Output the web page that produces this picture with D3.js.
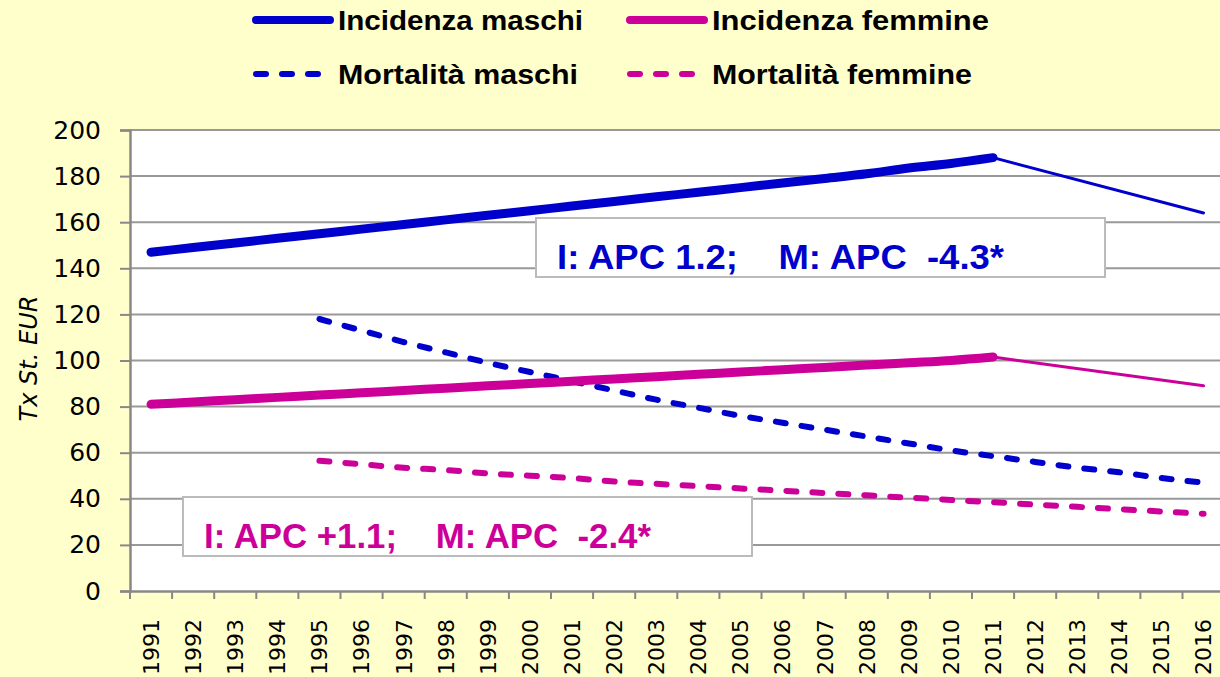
<!DOCTYPE html>
<html>
<head>
<meta charset="utf-8">
<script src="https://cdn.jsdelivr.net/npm/d3@7"></script>
<style>
  body { margin: 0; background: #ffffcc; overflow: hidden; }
  svg { display: block; }
</style>
</head>
<body>
<div id="chart"></div>
<script>
// years on the x axis
var years = d3.range(1991, 2017).map(String);
var yTicks = [0, 20, 40, 60, 80, 100, 120, 140, 160, 180, 200];

// values
var incMaschi = [147, 149, 151, 153, 155, 157, 159, 161, 163, 165, 167, 169, 171, 173, 175, 177, 179, 181, 183.5, 185.5, 188];
var incMaschiYears = d3.range(1991, 2012).map(String);
var incMaschiTail = [188, 164];
var incFemmine = [81, 82, 83, 84, 85, 86, 87, 88, 89, 90, 91, 92, 93, 94, 95, 96, 97, 98, 99, 100, 101.5];
var incFemmineTail = [101.5, 89];
var tailYears = ["2011", "2016"];
var mortYears = d3.range(1995, 2017).map(String);
var mortMaschi = [118, 113, 108, 103.5, 99, 95, 91, 87, 83, 79.5, 76, 73, 70, 67, 64, 61, 58.5, 56, 53.5, 51.5, 49, 47];
var mortFemmine = [56.5, 55, 53.5, 52.5, 51, 50, 49, 47.5, 46.5, 45.5, 44.5, 43.5, 42.5, 41.5, 40.5, 39.5, 38.5, 37.5, 36.5, 35.5, 34.5, 33.5];

var legendNames = ["Incidenza maschi", "Incidenza femmine", "Mortalità maschi", "Mortalità femmine"];
var noteMaschi = "I: APC 1.2;\u00a0\u00a0\u00a0 M: APC\u00a0 -4.3*";
var noteFemmine = "I: APC +1.1;\u00a0\u00a0\u00a0 M: APC\u00a0 -2.4*";

var blue = "#0000cc";
var pink = "#cc0099";

var svgWidth = 1220;
var svgHeight = 677;
var margin = { top: 130, left: 130, bottom: 86 };

var svg = d3.select("#chart").append("svg")
  .attr("width", svgWidth)
  .attr("height", svgHeight);

var x = d3.scaleBand()
  .domain(years)
  .range([margin.left, margin.left + 26 * 42.1]);

var y = d3.scaleLinear()
  .domain([0, 200])
  .range([svgHeight - margin.bottom, margin.top]);

var xc = d => x(d) + x.bandwidth() / 2;

// plot area
svg.append("rect")
  .attr("x", x.range()[0])
  .attr("y", y(200))
  .attr("width", x.range()[1] - x.range()[0])
  .attr("height", y(0) - y(200))
  .attr("fill", "#fff");

// gridlines
svg.append("g").selectAll("line")
  .data(yTicks.filter(d => d > 0))
  .enter().append("line")
  .attr("x1", x.range()[0])
  .attr("x2", x.range()[1])
  .attr("y1", d => y(d))
  .attr("y2", d => y(d))
  .attr("stroke", "#999")
  .attr("stroke-width", 2);

// y axis
var yAxis = svg.append("g")
  .attr("transform", `translate(${margin.left},0)`)
  .call(d3.axisLeft(y).tickValues(yTicks).tickSize(10).tickPadding(19));
yAxis.select(".domain").attr("stroke", "#888").attr("stroke-width", 2.5);
yAxis.selectAll(".tick line").attr("stroke", "#888").attr("stroke-width", 2);
yAxis.selectAll("text")
  .attr("font-family", "DejaVu Sans")
  .attr("font-size", 25)
  .attr("fill", "#000");

// x axis
var xAxis = svg.append("g")
  .attr("transform", `translate(0,${y(0)})`)
  .call(d3.axisBottom(x).tickSize(0).tickPadding(0));
xAxis.select(".domain").attr("stroke", "#888").attr("stroke-width", 2.5);
xAxis.selectAll("text")
  .attr("font-family", "DejaVu Sans")
  .attr("font-size", 22)
  .attr("fill", "#000")
  .attr("text-anchor", "end")
  .attr("transform", "rotate(-90)")
  .attr("x", -28)
  .attr("y", 0)
  .attr("dy", "0.36em");

// x tick marks at band edges
svg.append("g").selectAll("line")
  .data(years)
  .enter().append("line")
  .attr("x1", d => x(d))
  .attr("x2", d => x(d))
  .attr("y1", y(0))
  .attr("y2", y(0) + 8)
  .attr("stroke", "#888")
  .attr("stroke-width", 2);

// y axis title
svg.append("text")
  .attr("transform", `translate(37,${(y(0) + y(200)) / 2 - 2}) rotate(-90)`)
  .attr("text-anchor", "middle")
  .attr("font-family", "DejaVu Sans")
  .attr("font-style", "italic")
  .attr("font-size", 24)
  .text("Tx St. EUR");

// lines
var line = d3.line()
  .x(d => xc(d[0]))
  .y(d => y(d[1]))
  .curve(d3.curveMonotoneX);

function drawSeries(xs, vals, color, width, dash) {
  svg.append("path")
    .datum(d3.zip(xs, vals))
    .attr("d", line)
    .attr("fill", "none")
    .attr("stroke", color)
    .attr("stroke-width", width)
    .attr("stroke-linecap", "round")
    .attr("stroke-linejoin", "round")
    .attr("stroke-dasharray", dash || null);
}

drawSeries(mortYears, mortMaschi, blue, 6, "10,16");
drawSeries(mortYears, mortFemmine, pink, 6, "10,16");
drawSeries(tailYears, incMaschiTail, blue, 3);
drawSeries(tailYears, incFemmineTail, pink, 3);
drawSeries(incMaschiYears, incMaschi, blue, 9);
drawSeries(incMaschiYears, incFemmine, pink, 9);

// annotation boxes
function note(bx, by, txt, color) {
  svg.append("rect")
    .attr("x", bx)
    .attr("y", by)
    .attr("width", 569)
    .attr("height", 59)
    .attr("fill", "#fff")
    .attr("stroke", "#bbb")
    .attr("stroke-width", 2);
  svg.append("text")
    .attr("x", bx + 21)
    .attr("y", by + 51)
    .attr("font-family", "Liberation Sans Narrow, Liberation Sans")
    .attr("font-weight", "bold")
    .attr("font-size", 35)
    .attr("fill", color)
    .attr("textLength", 447)
    .attr("lengthAdjust", "spacingAndGlyphs")
    .text(txt);
}
note(536, 218, noteMaschi, blue);
note(183, 497, noteFemmine, pink);

// legend
var legend = [
  { name: legendNames[0], color: blue, dash: null, lx: 252, ly: 20, tw: 245 },
  { name: legendNames[1], color: pink, dash: null, lx: 626, ly: 20, tw: 277 },
  { name: legendNames[2], color: blue, dash: "10,16", lx: 252, ly: 74, tw: 240 },
  { name: legendNames[3], color: pink, dash: "10,16", lx: 626, ly: 74, tw: 260 }
];
var lg = svg.append("g").selectAll("g")
  .data(legend)
  .enter().append("g");
lg.append("line")
  .attr("x1", d => d.lx + 4)
  .attr("x2", d => d.lx + 78)
  .attr("y1", d => d.ly)
  .attr("y2", d => d.ly)
  .attr("stroke", d => d.color)
  .attr("stroke-width", d => d.dash ? 6 : 8)
  .attr("stroke-linecap", "round")
  .attr("stroke-dasharray", d => d.dash);
lg.append("text")
  .attr("x", d => d.lx + 86)
  .attr("y", d => d.ly + 10)
  .attr("font-family", "Liberation Sans Narrow, Liberation Sans")
  .attr("font-weight", "bold")
  .attr("font-size", 28)
  .attr("textLength", d => d.tw)
  .attr("lengthAdjust", "spacingAndGlyphs")
  .text(d => d.name);
</script>
</body>
</html>
